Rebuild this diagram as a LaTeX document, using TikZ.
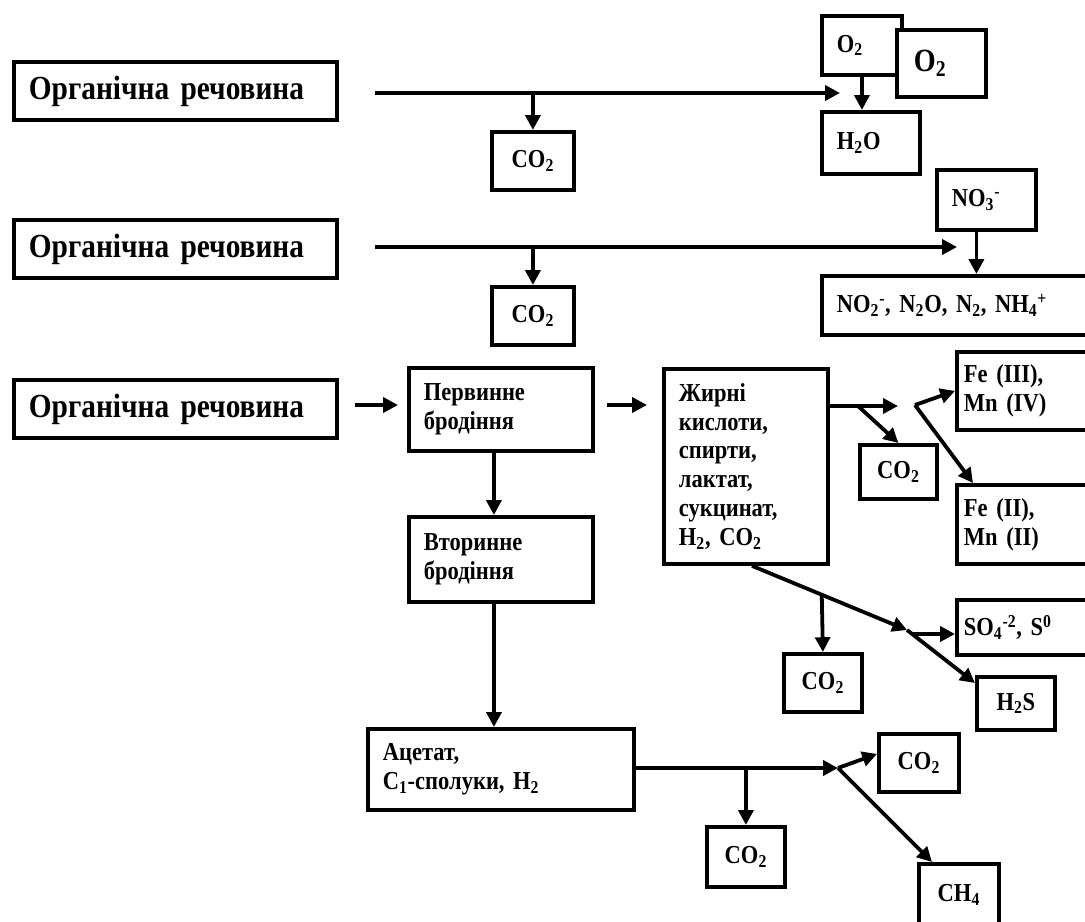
\documentclass[tikz,border=0pt]{standalone}
\usepackage{fontspec}
\setmainfont{Liberation Serif}[FakeStretch=0.87, WordSpace=0.7]
\usetikzlibrary{arrows.meta, calc}
\tikzset{
  box/.style={draw, line width=2.7pt, fill=white, anchor=north west, align=left, inner xsep=0.375cm, inner ysep=0pt, font=\fontsize{18.4}{20.5}\selectfont\bfseries},
  cbox/.style={draw, line width=2.7pt, fill=white, anchor=north west, align=center, inner sep=0pt, font=\fontsize{18.4}{20.5}\selectfont\bfseries},
  big/.style={font=\fontsize{24}{28}\selectfont\bfseries},
  arr/.style={line width=2.7pt, -{Triangle[length=10.5pt,width=10.5pt]}}
}
\begin{document}
\begin{tikzpicture}[x=0.025cm, y=-0.025cm]
    \useasboundingbox (0,0) rectangle (1085,921);
    \clip (0,0) rectangle (1085,921);
    \node[box, big, text width=7.325cm, minimum height=1.45cm] (org1) at (12,60) {Органічна речовина};
    \node[box, big, text width=7.325cm, minimum height=1.45cm] (org2) at (12,218) {Органічна речовина};
    \node[box, big, text width=7.325cm, minimum height=1.45cm] (org3) at (12,378) {Органічна речовина};
    \node[cbox, minimum width=2.05cm, minimum height=1.45cm] (co2a) at (490,130) {CO\textsubscript{2}};
    \node[cbox, minimum width=2.05cm, minimum height=1.45cm] (co2b) at (490,285) {CO\textsubscript{2}};
    \node[box, text width=1.25cm, minimum height=1.475cm] (o2a) at (820,14) {O\textsubscript{2}};
    \node[box, font=\fontsize{23}{26}\selectfont\bfseries, inner xsep=0.425cm, text width=1.375cm, minimum height=1.675cm] (o2b) at (895,28) {O\textsubscript{2}};
    \node[box, text width=1.7cm, minimum height=1.55cm] (h2o) at (820,110) {H\textsubscript{2}O};
    \node[box, text width=1.725cm, minimum height=1.5cm] (no3) at (935,168) {NO\textsubscript{3}\textsuperscript{-}};
    \node[box, text width=6.25cm, minimum height=1.475cm] (no2) at (820,274) {NO\textsubscript{2}\textsuperscript{-}, N\textsubscript{2}O, N\textsubscript{2}, NH\textsubscript{4}\textsuperscript{+}};
    \node[box, text width=3.85cm, minimum height=2.075cm] (perv) at (407,366) {Первинне\\бродіння};
    \node[box, text width=3.35cm, minimum height=4.875cm] (zhyr) at (662,367) {Жирні\\кислоти,\\спирти,\\лактат,\\сукцинат,\\H\textsubscript{2}, CO\textsubscript{2}};
    \node[box, text width=3.85cm, minimum height=2.125cm] (vtor) at (407,515) {Вторинне\\бродіння};
    \node[box, text width=5.9cm, minimum height=2.025cm] (acet) at (366,727) {Ацетат,\\C\textsubscript{1}-сполуки, H\textsubscript{2}};
    \node[cbox, minimum width=1.925cm, minimum height=1.35cm] (co2c) at (858,443) {CO\textsubscript{2}};
    \node[box, inner xsep=0.175cm, text width=3.525cm, minimum height=1.95cm] (fe3) at (955,350) {Fe (III),\\Mn (IV)};
    \node[box, inner xsep=0.175cm, text width=3.525cm, minimum height=1.975cm] (fe2) at (955,483) {Fe (II),\\Mn (II)};
    \node[cbox, minimum width=1.95cm, minimum height=1.45cm] (co2d) at (782,652) {CO\textsubscript{2}};
    \node[box, inner xsep=0.175cm, text width=3.525cm, minimum height=1.375cm] (so4) at (955,598) {SO\textsubscript{4}\textsuperscript{-2}, S\textsuperscript{0}};
    \node[cbox, minimum width=1.95cm, minimum height=1.325cm] (h2s) at (975,675) {H\textsubscript{2}S};
    \node[cbox, minimum width=1.95cm, minimum height=1.5cm] (co2e) at (705,825) {CO\textsubscript{2}};
    \node[cbox, minimum width=2cm, minimum height=1.45cm] (co2f) at (877,732) {CO\textsubscript{2}};
    \node[cbox, minimum width=2cm, minimum height=1.55cm] (ch4) at (917,862) {CH\textsubscript{4}};
    \coordinate (r1s) at (375,93);
    \coordinate (r1e) at (840,93);
    \draw[arr] (r1s) -- (r1e);
    \draw[arr] (r1s -| co2a.north) -- (co2a.north);
    \draw[arr] (o2a.south) -- (o2a.south |- h2o.north);
    \coordinate (r2s) at (375,247);
    \coordinate (r2e) at (957,247);
    \draw[arr] (r2s) -- (r2e);
    \draw[arr] (r2s -| co2b.north) -- (co2b.north);
    \coordinate (n3) at ([xshift=-0.25cm]no3.south);
    \draw[arr] (n3) -- (n3 |- no2.north);
    \coordinate (r3a) at (355,405);
    \coordinate (r3b) at (398,405);
    \draw[arr] (r3a) -- (r3b);
    \coordinate (r3c) at (607,405);
    \coordinate (r3d) at (647,405);
    \draw[arr] (r3c) -- (r3d);
    \coordinate (p1) at ([xshift=-0.175cm]perv.south);
    \draw[arr] (p1) -- (p1 |- vtor.north);
    \coordinate (v1) at ([xshift=-0.175cm]vtor.south);
    \draw[arr] (v1) -- (v1 |- acet.north);
    \coordinate (j1) at (898,406);
    \coordinate (k1) at (858,406);
    \draw[arr] (zhyr.east |- j1) -- (j1);
    \draw[arr] (k1) -- (co2c.north);
    \coordinate (m1) at (915,405);
    \draw[arr] (m1) -- (fe3.west);
    \draw[arr] (m1) -- ($(fe2.north west)+(18,0)$);
    \coordinate (z0) at ($(zhyr.south west)+(90,0)$);
    \coordinate (d1) at (907,630);
    \draw[arr] (z0) -- (d1);
    \draw[arr] ($(z0)!0.45!(d1)$) -- (co2d.north);
    \draw[arr] (d1) -- ($(h2s.north west)+(0,8)$);
    \coordinate (s1) at (913,634);
    \draw[arr] (s1) -- (s1 -| so4.west);
    \coordinate (a1) at (838,768);
    \draw[arr] (acet.east |- a1) -- (a1);
    \draw[arr] (a1 -| co2e.north) -- (co2e.north);
    \draw[arr] (a1) -- ($(co2f.west)+(0,-9)$);
    \draw[arr] (a1) -- ($(ch4.north west)+(15,0)$);
\end{tikzpicture}
\end{document}
